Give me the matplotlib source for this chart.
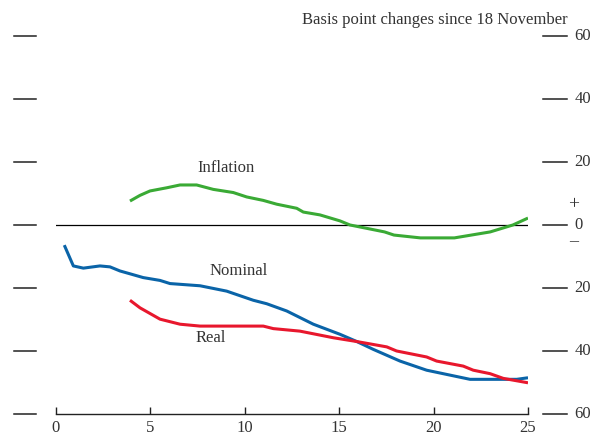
import matplotlib.pyplot as plt
import matplotlib.transforms as mtransforms

plt.rcParams['font.family'] = ['Liberation Serif', 'DejaVu Serif']

# values (days since 18 November, basis points)
nominal_x = [0.44, 0.92, 1.45, 2.33, 2.86, 3.39, 3.92, 4.62, 5.51, 6.04, 7.63, 9.04,
             10.45, 11.16, 12.22, 13.63, 15.04, 15.93, 16.81, 18.22, 19.63, 21.93,
             24.40, 25.0]
nominal_y = [-6.4, -13.0, -13.7, -13.0, -13.3, -14.6, -15.5, -16.7, -17.6, -18.6, -19.3,
             -21.0, -23.9, -25.0, -27.3, -31.5, -34.7, -37.0, -39.5, -43.2, -46.1,
             -49.0, -49.0, -48.5]

real_x = [3.92, 4.45, 5.51, 6.57, 7.63, 10.98, 11.51, 12.92, 14.69, 15.93, 17.52,
          18.04, 19.63, 20.16, 21.57, 22.10, 22.99, 23.69, 25.0]
real_y = [-23.9, -26.3, -29.9, -31.5, -32.1, -32.1, -32.9, -33.7, -35.8, -37.0, -38.7,
          -40.0, -41.9, -43.2, -44.8, -46.1, -47.2, -48.7, -50.1]

infl_x = [3.92, 4.45, 4.98, 5.86, 6.57, 7.45, 8.33, 9.39, 10.10, 10.98, 11.69, 12.75,
          13.10, 13.98, 15.04, 15.57, 17.4, 17.9, 19.3, 21.1, 23.0, 24.2, 25.0]
infl_y = [7.6, 9.4, 10.8, 11.8, 12.7, 12.7, 11.3, 10.3, 8.9, 7.8, 6.6, 5.3,
          4.1, 3.2, 1.3, 0.0, -2.2, -3.2, -4.1, -4.1, -2.2, 0.0, 2.2]

x_ticks = [0, 5, 10, 15, 20, 25]
y_ticks = [60, 40, 20, 0, -20, -40, -60]
y_labels = ['60', '40', '20', '0', '20', '40', '60']

text_col = '#333333'
fs = 12

fig = plt.figure(figsize=(5.93, 4.36), dpi=100)
ax = fig.add_axes([0.0944, 0.0505, 0.7960, 0.8670])

ax.axhline(0, color='black', lw=0.9)
ax.plot(infl_x, infl_y, color='#3aaa35', lw=2.2, solid_capstyle='butt')
ax.plot(nominal_x, nominal_y, color='#0a64a8', lw=2.2, solid_capstyle='butt')
ax.plot(real_x, real_y, color='#e8172d', lw=2.2, solid_capstyle='butt')

ax.set_xlim(0, 25)
ax.set_ylim(-60, 60)
for s in ['left', 'right', 'top']:
    ax.spines[s].set_visible(False)
ax.spines['bottom'].set_color('#222222')
ax.spines['bottom'].set_linewidth(1.0)
ax.set_xticks(x_ticks)
ax.tick_params(axis='x', direction='in', length=5, width=1.0, color='#222222',
               labelsize=fs, labelcolor=text_col, pad=4.5)
ax.set_yticks([])

# dashes on both sides at each gridline level, labels on the right
trans = mtransforms.blended_transform_factory(ax.transAxes, ax.transData)
for v, lab in zip(y_ticks, y_labels):
    ax.plot([-0.089, -0.042], [v, v], color='#222222', lw=1.1, transform=trans, clip_on=False)
    ax.plot([1.032, 1.083], [v, v], color='#222222', lw=1.1, transform=trans, clip_on=False)
    ax.text(1.098, v, lab, transform=trans, ha='left', va='center', fontsize=fs, color=text_col)
ax.text(1.097, 6.4, '+', transform=trans, ha='center', va='center', fontsize=fs + 2, color=text_col)
ax.text(1.097, -5.4, '\u2013', transform=trans, ha='center', va='center', fontsize=fs + 1, color=text_col)

ax.text(1.083, 65, 'Basis point changes since 18 November', transform=trans,
        ha='right', va='center', fontsize=fs, color=text_col)

ax.text(9.0, 18, 'Inflation', ha='center', va='center', fontsize=fs, color=text_col)
ax.text(9.7, -14.5, 'Nominal', ha='center', va='center', fontsize=fs, color=text_col)
ax.text(8.2, -36, 'Real', ha='center', va='center', fontsize=fs, color=text_col)

fig.savefig('out.png', dpi=100)
plt.close()
